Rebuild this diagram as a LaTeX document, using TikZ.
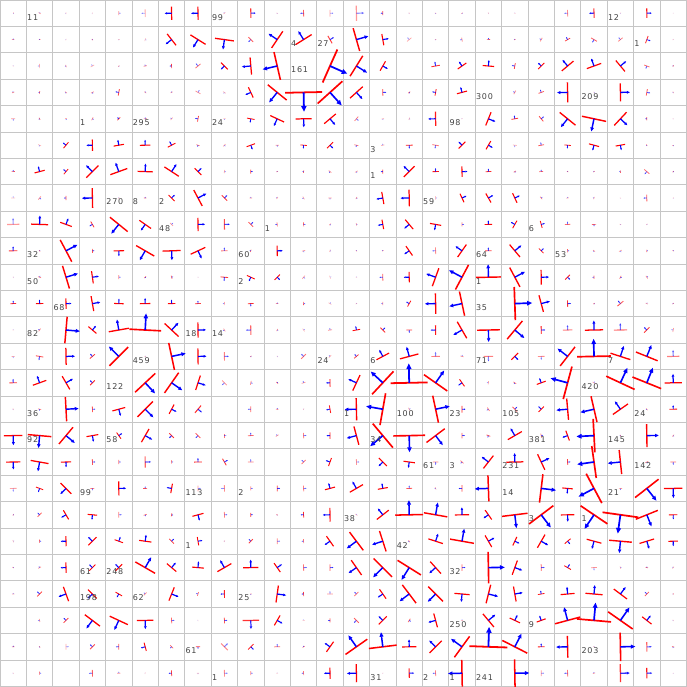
\documentclass[tikz,border=0pt]{standalone}
\usepackage{fontspec}
\usetikzlibrary{arrows.meta}
\newfontfamily\labfont[LetterSpace=10]{DejaVu Sans}
\definecolor{gridgray}{HTML}{C6C6C6}
\definecolor{labgray}{HTML}{444444}
\tikzset{
  gridline/.style={gridgray,line width=0.9pt},
  redbar/.style={red,line cap=butt},
  bluearrow/.style={blue,line cap=butt},
  lab/.style={font=\labfont\fontsize{8}{8}\selectfont,text=labgray,inner sep=0pt,anchor=base west}
}
\newcommand\GC[5]{%
  \pgfmathsetmacro\cx{13.2+26.4*#2}\pgfmathsetmacro\cy{13.2+26.4*#1}%
  \pgfmathsetmacro\ang{(#3==0 && #4<=2.5) ? mod(37*#1+61*#2,360) : (mod(#3+360,90)==0 ? #3+1.2 : #3)}%
  \pgfmathsetmacro\len{#4<3 ? 0.85*#4 : #4}%
  \pgfmathsetmacro\ddx{\len*cos(\ang)}\pgfmathsetmacro\ddy{-\len*sin(\ang)}%
  \pgfmathsetmacro\lw{#4<5 ? 0.5+0.09*#4 : 0.8+0.05*#4}%
  \pgfmathsetmacro\hd{0.5+0.27*#4}%
  \pgfmathsetmacro\hw{0.85*\hd}%
  \pgfmathsetmacro\opa{#5*min(1,0.4+#4/7)}%
  \draw[redbar,line width=\lw pt,opacity=\opa] ({\cx-0.95*\ddy},{\cy+0.95*\ddx}) -- ({\cx+0.95*\ddy},{\cy-0.95*\ddx});
  \draw[bluearrow,line width=\lw pt,opacity=\opa,-{Triangle[length=\hd pt,width=\hw pt]}] (\cx,\cy) -- ({\cx+\ddx},{\cy+\ddy});
}
\newcommand\RW[2]{\foreach \xc/\xa/\xl/\xo in {#2}{\GC{#1}{\xc}{\xa}{\xl}{\xo}}}
\newcommand\LB[3]{\node[lab] (t#1x#2) at ({26.4*#1+0.6},{13.2+26.4*#2+6.8}) {#3};}
\begin{document}
\begin{tikzpicture}[x=1pt,y=-1pt]
\fill[white] (0,0) rectangle (687,686);
\useasboundingbox (0,0) rectangle (687,686);
\foreach \i in {0,...,26}{
  \draw[gridline] ({26.4*\i},0) -- ({26.4*\i},686);
  \draw[gridline] (0,{26.4*\i}) -- (687,{26.4*\i});
}
\RW{0}{0/0/1/.3,1/0/1.5/.6,2/180/1/.4,3/0/1/.3,4/1/2.5/.5,5/180/4/.35,6/180/7/1,7/180/7/1,8/0/1.5/.5,9/1/5/.8,10/0/1/.4,11/180/3.5/.7,12/1/3.5/.4,13/1/8/.4,14/180/2.5/.9,15/0/1/.4,16/0/1/.6,17/0/1/.7,18/0/1/.4,19/0/1/.4,21/180/3.5/.5,22/180/5/.8,23/0/1/.3,24/1/5/.9,25/0/.7/.2}
\RW{1}{0/90/1.5/.9,1/0/1/1,2/0/1/.3,3/0/1/1,4/0/1/.5,5/0/2/.3,6/218/7.6/1,7/238/9.4/1,8/262/10/1,9/225/3.5/.7,10/146/10.5/1,11/122/10/1,12/30/4.5/.8,13/16/12.5/1,14/10/6/1,15/130/3/.4,16/0/1/.6,17/190/2.5/.6,18/90/2/1,19/0/1/1,20/150/2.5/.6,21/120/3/.9,22/240/3.5/.7,23/130/3/.6,24/-20/4/.8,25/0/1/.3}
\RW{2}{0/0/1/.3,1/180/2.5/.4,2/0/1.5/.7,3/120/2.5/.4,4/0/1/.7,5/100/2/.7,6/180/2.5/1,7/130/3.5/.6,8/225/5/1,9/185/9/1,10/193/15/1,12/-24/19/1,13/-32/12.6/1,14/-30/5.7/1,16/100/4.5/.8,17/125/5.5/1,18/85/6/1,19/170/3/.9,20/135/4.5/1,21/130/8/1,22/110/8/1,23/40/7.5/1,24/250/3/.7,25/0/1/1}
\RW{3}{0/0/1.5/.8,1/0/1.5/1,2/0/1.5/.7,3/0/2/.6,4/170/3.5/.8,5/0/1.5/.6,6/0/1.5/.6,7/60/3/.5,8/0/2/.4,9/205/6/1,10/231/12.8/1,11/270/19.5/1,12/-48/17.5/1,13/-48/9/1,14/1/3.5/.8,15/0/1.5/1,16/170/3.5/1,17/105/5.5/1,19/150/2.5/.6,20/110/3/.8,21/180/10.5/1,22/0/1/.5,23/1/9.5/1,24/-10/3.5/.7,25/0/1/.8}
\RW{4}{0/270/2.5/.5,1/0/1.5/.9,2/0/1.5/.5,3/0/2/.7,4/135/2.5/1,5/0/2/.7,6/140/2/.5,7/170/3/.9,8/0/1.5/.5,9/260/4/1,10/245/8/1,11/270/8.5/1,12/-50/8/1,13/-40/3/.6,14/0/1.5/.5,15/0/1.5/.5,16/180/7.5/.9,17/0/1/.3,18/-22/7.5/1,19/100/3.5/.9,20/40/3.5/.8,21/231/10.7/1,22/258/13/1,23/-43/9.5/1,24/180/2/.9,25/0/.8/.3}
\RW{5}{1/0/2/.4,2/140/4/1,3/180/6/1,4/100/5.5/1,5/90/5.5/1,6/118/4.5/1,7/0/2/.9,8/0/2/.5,9/-70/4.7/1,10/270/2/.6,11/265/3.5/1,12/-45/4.5/1,13/0/2.5/.7,14/100/2/.5,15/270/3.5/1,16/260/3.5/.6,17/135/5/1,18/-30/5/1,19/0/2.5/.4,20/100/3/.8,21/265/3.5/1,22/255/5.5/1,23/-80/5/1,24/0/1/1,25/0/1.5/.4}
\RW{6}{0/90/2/1,1/105/5.5/1,2/140/3.5/1,3/135/9/1,4/110/9.5/1,5/88/8/1,6/57/9/1,7/45/5/1,8/0/2/.5,9/1/2.5/1,10/0/1/1,11/0/1.5/1,12/0/2/.7,13/0/2/.5,14/180/2.5/1,15/135/8/1,16/90/3.5/1,17/1/5.5/1,18/90/3/1,19/0/1.5/1,20/90/2.5/.8,21/0/1/1,22/0/1/1,23/0/1.5/1,24/230/3.5/.6,25/0/1/1}
\RW{7}{0/90/2.5/.3,1/0/2.5/.6,2/180/2.5/.9,3/180/10.5/1,4/0/1/.4,5/90/1.5/.9,6/45/4.5/1,7/28/9.5/1,8/45/4/.8,9/0/1.5/.7,10/0/1.5/.6,11/0/2/.5,12/0/2/.6,13/0/1.5/.7,14/190/6.5/1,15/180/8.7/1,16/1/2/.5,17/25/5/1,18/30/5.5/1,19/25/5.5/1,20/0/2/.7,21/0/1.5/.6,22/0/1.5/.6,23/0/1/.2,24/180/3.5/.7,25/0/1/.3}
\RW{8}{0/90/6.5/.4,1/88/9/1,2/70/6.5/1,3/-150/3.5/.9,4/231/12/1,5/235/7.5/1,6/45/2.5/.5,7/1/7/1,8/1/5.5/.7,9/45/3.5/.8,10/0/2.5/.7,11/1/2.5/.8,12/0/1.5/.6,13/0/1.5/.6,14/190/5/1,15/220/6.5/1,16/260/6/1,17/1/2.5/.7,18/90/4/1,19/150/4.5/1,20/15/3.8/1,21/90/3/.7,22/270/2.5/.8,23/0/1/.5,24/0/1/.5}
\RW{9}{0/90/4.5/.8,1/0/1/1,2/28/13/1,3/1/2.5/.9,4/270/5.5/1,5/240/11/1,6/272/9.5/1,7/-65/8.5/1,8/90/3.5/.6,9/0/1.5/1,10/1/5.5/1,11/0/2/.6,12/0/1.5/.6,13/0/1/.6,14/0/1/1,15/215/6/1,16/180/3.5/.5,17/145/8/1,18/90/3.5/.8,19/40/8.5/1,20/45/3.5/1,21/1/2/1,22/0/1.5/.7,23/0/2/.5,24/0/1.5/.9,25/0/1/.8}
\RW{10}{0/0/1/.3,1/0/2/.7,2/17/12.5/1,3/8/6.5/1,4/1/2.5/.6,5/0/1.5/.9,6/0/2/.9,7/0/.7/.3,8/265/4/.8,9/245/4.5/1,10/-45/4/1,11/0/2.5/.5,12/0/2/.3,13/0/1/.4,14/180/3.5/.7,15/180/5.5/1,16/160/10/1,17/152/14.7/1,18/90/13/1,19/28/11.5/1,20/1/7.8/1,21/-45/3.5/1,22/180/2/.9,23/0/2/.8,24/0/2/.7}
\RW{11}{0/90/3/1,1/90/4/1,2/1/5.5/1,3/10/8/1,4/88/5/1,5/90/5.5/1,6/90/4/1,7/90/3/.9,8/0/2/.5,9/270/3/1,10/90/1.5/1,11/0/2/1,12/0/2/.4,13/0/1/.5,14/0/2/.6,15/150/3.5/1,16/180/10.7/1,17/192/13/1,19/2/17.5/1,20/15/9/1,21/1/3.5/.9,22/0/1/1,23/130/4/.7,24/0/1.5/.6,25/0/1/.9}
\RW{12}{0/0/1/.3,1/0/2/.7,2/-5/14/1,3/50/5.5/1,4/100/10.7/1,5/87/16.7/1,6/47/10/1,7/1/8/1,8/0/2/.6,9/180/5/.6,10/0/1.5/.7,11/0/2/.4,12/0/2.5/.6,13/100/4/1,14/45/3.5/.9,15/270/3/.9,16/180/5/.9,17/210/10/1,18/270/12/1,19/-40/12.5/1,20/1/4/1,21/90/5/.5,22/90/9.5/1,23/90/7/.55,24/135/4/.8,25/0/2.5/.5}
\RW{13}{0/270/2/.5,1/260/4/.7,2/1/9/1,3/130/3.5/.9,4/135/14/1,5/0/1/.5,6/12/14.5/1,7/1/8.5/1,8/1/4.5/.5,9/0/1/.9,10/0/1/.4,11/135/3.5/.6,12/0/2/.5,13/130/3/.9,14/118/7.5/1,15/105/10/1,16/90/4.5/.5,17/0/2/.6,18/270/5/.5,19/-45/5/1,20/270/3.5/.5,21/142/12.7/1,22/90/17.7/1,23/72/11/1,24/68/12.3/1,25/90/6.5/.5}
\RW{14}{0/90/4/.8,1/110/7.5/1,2/30/8/1,3/135/3.5/1,5/-47/14.5/1,6/-35/13/1,7/-18/8/1,8/225/3.5/.5,9/0/2.5/.6,10/0/1.5/.9,11/0/2.5/.5,12/180/4/1,13/155/9/1,14/137/16.5/1,15/90/19.5/1,16/55/15/1,17/215/4.5/1,18/0/2/.5,19/0/2/.8,20/110/5/1,21/165/17.7/1,22/0/2/.5,23/65/16.5/1,24/68/16.3/1,25/90/9/1}
\RW{15}{0/0/1/.5,1/0/2/.7,2/3/12.7/1,3/1/3/.8,4/-75/7/1,5/-45/11.5/1,6/-28/5.5/1,7/-40/5/.8,9/180/3/.7,10/0/1.5/1,11/0/1/.4,12/190/4/.9,13/180/11.7/1,14/170/17/1,15/0/2/.5,16/12/14.5/1,17/1/3.5/1,18/0/2.5/.7,19/45/3.5/.8,20/135/4/1,21/185/11.3/1,22/193/14/1,23/125/9.7/1,24/0/1.5/.6,25/90/4/1}
\RW{16}{0/270/9.7/1,1/265/12.5/1,2/-40/11.5/1,3/-80/6.3/1,4/35/4/1,5/-30/8/1,6/225/3.5/.9,7/225/3.5/.8,8/0/2.5/.7,9/90/3/.7,10/0/2/.6,11/1/3/.6,12/180/3.5/1,13/195/10/1,14/220/16.5/1,15/270/16.7/1,16/-53/12/1,17/1/3/.8,18/0/2.5/.9,19/120/8.5/1,20/0/2.5/.7,21/200/5.5/1,22/183/17.7/1,23/0/1/1,24/1/12/1,25/0/1.5/.7}
\RW{17}{0/270/7.5/1,1/260/9.5/1,2/270/5.3/1,3/1/3/.8,4/1/2.5/.7,5/1/6/.6,6/1/2/.9,7/90/4/.9,8/30/4/.8,9/90/3/.6,11/135/3/.7,12/160/4.5/1,13/1/3/.5,14/225/6/1,15/262/6/1,16/270/3/.6,17/0/2.5/.7,18/142/8.5/1,19/90/9/1,20/25/9/1,21/1/3/.9,22/188/17/1,23/186/12.7/1,24/0/2/.7,25/270/3/.7}
\RW{18}{0/270/3.5/.4,1/250/4/1,2/225/8/1,3/270/2.5/.7,4/1/7.3/1,5/90/2.5/.9,6/170/5/1,7/1/3/.5,8/180/3.5/.5,9/1/2.5/.6,10/0/3/.9,11/0/3/.6,12/105/5.5/1,13/120/8/1,14/100/5.3/1,15/90/3/.8,16/0/1.5/.6,17/180/3.5/.8,18/182/13.7/1,20/-7/15/1,21/265/5.5/1,22/208/17.5/1,23/0/2/.6,24/-52/15.7/1,25/270/9.7/1}
\RW{19}{0/0/1/1,1/135/3/.8,2/210/5.5/1,3/265/5/1,4/1/3/.6,5/0/2/.9,6/0/2/1,7/-75/6/1,8/1/3/.6,9/1/2.5/1,10/0/1/1,11/180/3/1,12/180/7.3/.9,13/0/1.5/.4,14/128/8/1,15/90/14.7/1,16/80/12.5/1,17/90/7.5/1,18/215/6/1,19/-83/13.5/1,20/-53/16/1,21/270/7/1,22/236/17/1,23/262/19/1,24/-68/12.5/1,25/270/4.5/1}
\RW{20}{0/0/1.5/.4,1/1/2/1,2/180/5.3/1,3/135/6/1,4/70/4.7/1,5/82/6.5/1,6/45/3.5/.9,7/10/4.5/1,8/0/1/.5,9/135/3/.9,10/0/3/.6,11/180/2.5/.7,12/215/6.5/1,13/217/12/1,14/198/11.3/1,15/0/1.5/.7,16/72/8/1,17/80/12.7/1,18/30/7/1,19/-25/5/1,20/-30/8/1,21/-50/4/1,22/255/8/1,23/265/12/1,24/-73/8/1,25/270/5/1}
\RW{21}{0/0/1/.8,1/0/2/.6,2/180/5.5/1,3/135/4.5/1,4/135/5/1,5/60/12/1,6/50/6.5/1,7/85/6.3/1,8/120/8.5/1,9/90/8/1,10/35/5.7/1,11/0/3.5/.6,12/0/3.5/.7,13/215/9.5/1,14/225/13.7/1,15/238/14.5/1,16/222/8.5/1,17/0/3.5/.7,18/1/16.5/1,19/-20/8/1,20/0/3.5/.7,21/60/4/1,22/270/3/.5,23/0/1.5/.5,24/0/1.5/.9,25/0/1.5/.5}
\RW{22}{0/0/1.5/.6,1/135/3.5/.9,2/200/8/1,3/225/6.5/1,4/240/4/1,5/135/2.5/.6,6/-22/7.5/1,7/0/2.5/.7,8/180/4/.9,9/0/1/1,10/-8/9/1,11/180/2.5/1,12/90/3/.5,13/135/3/.7,14/215/6/1,15/217/12/1,16/225/11/1,17/265/8/1,18/-14/10/1,19/10/8/1,20/100/3.5/1,21/95/7.3/1,22/85/9/1,23/53/8.7/1,24/135/3/.8,25/0/1/.7}
\RW{23}{1/0/2/.6,2/135/3.5/.9,3/233/10/1,4/245/10.5/1,5/270/8.7/1,6/0/3/.7,7/0/1/.2,8/0/3/.8,9/270/8.7/.8,10/-30/6/1,11/0/1.5/.3,12/180/2.5/.9,13/225/3.5/.7,14/135/6/1,15/0/2.5/.8,16/195/7.5/1,17/0/1.5/.5,18/40/9/1,19/65/6/1,20/110/5/1,21/105/13.7/1,22/85/18/1,23/55/15.8/1,24/52/6.3/1,25/0/1/.4}
\RW{24}{0/90/1.5/1,1/0/1/1,2/0/3/.4,3/135/3.5/.8,4/180/3/.8,5/195/4.5/1,6/225/2.5/.8,7/270/2.5/1,8/45/5/.45,9/-45/4/1,10/90/3/.7,11/0/1.5/.9,12/145/6.5/1,13/125/14/1,14/97/14.7/1,15/90/7.5/1,16/135/9/1,17/144/13.6/1,18/88/20/1,19/63/14.7/1,20/90/3.5/1,21/180/11.5/1,22/0/1/.5,23/1/15/1,24/1/5/.6,25/0/1.5/.9}
\RW{25}{0/0/1/.3,1/1/2/.8,3/180/3.5/.7,4/0/2/.6,5/0/1/.3,6/180/3/.9,7/0/1.5/.4,8/1/3.5/.5,9/1/2.5/.6,10/0/1/.4,11/180/2.5/.7,12/180/6/1,13/180/9.5/1,14/0/.8/.3,15/1/5/.9,16/180/3/.6,17/180/14/1,19/1/14.5/1,20/1/3/.5,21/180/3.5/.6,22/0/1.5/.7,23/1/9.5/.8,24/1/5.5/.9,25/0/.8/.3}
\LB{1}{0}{11}\LB{8}{0}{99}\LB{23}{0}{12}
\LB{11}{1}{4}\LB{12}{1}{27}\LB{24}{1}{1}
\LB{11}{2}{161}
\LB{18}{3}{300}\LB{22}{3}{209}
\LB{3}{4}{1}\LB{5}{4}{295}\LB{8}{4}{24}\LB{17}{4}{98}
\LB{14}{5}{3}
\LB{14}{6}{1}
\LB{4}{7}{270}\LB{5}{7}{8}\LB{6}{7}{2}\LB{16}{7}{59}
\LB{6}{8}{48}\LB{10}{8}{1}\LB{20}{8}{6}
\LB{1}{9}{32}\LB{9}{9}{60}\LB{18}{9}{64}\LB{21}{9}{53}
\LB{1}{10}{50}\LB{9}{10}{2}\LB{18}{10}{1}
\LB{2}{11}{68}\LB{18}{11}{35}
\LB{1}{12}{82}\LB{7}{12}{18}\LB{8}{12}{14}
\LB{5}{13}{459}\LB{12}{13}{24}\LB{14}{13}{6}\LB{18}{13}{71}\LB{23}{13}{7}
\LB{4}{14}{122}\LB{22}{14}{420}
\LB{1}{15}{36}\LB{13}{15}{1}\LB{15}{15}{100}\LB{17}{15}{23}\LB{19}{15}{105}\LB{24}{15}{24}
\LB{1}{16}{92}\LB{4}{16}{58}\LB{14}{16}{34}\LB{20}{16}{381}\LB{23}{16}{145}
\LB{16}{17}{61}\LB{17}{17}{3}\LB{19}{17}{231}\LB{24}{17}{142}
\LB{3}{18}{99}\LB{7}{18}{113}\LB{9}{18}{2}\LB{19}{18}{14}\LB{23}{18}{21}
\LB{13}{19}{38}\LB{20}{19}{3}\LB{22}{19}{1}
\LB{7}{20}{1}\LB{15}{20}{42}
\LB{3}{21}{61}\LB{4}{21}{248}\LB{17}{21}{32}
\LB{3}{22}{198}\LB{5}{22}{62}\LB{9}{22}{25}
\LB{17}{23}{250}\LB{20}{23}{9}
\LB{7}{24}{61}\LB{22}{24}{203}
\LB{8}{25}{1}\LB{14}{25}{31}\LB{16}{25}{2}\LB{17}{25}{1}\LB{18}{25}{241}
\end{tikzpicture}
\end{document}
